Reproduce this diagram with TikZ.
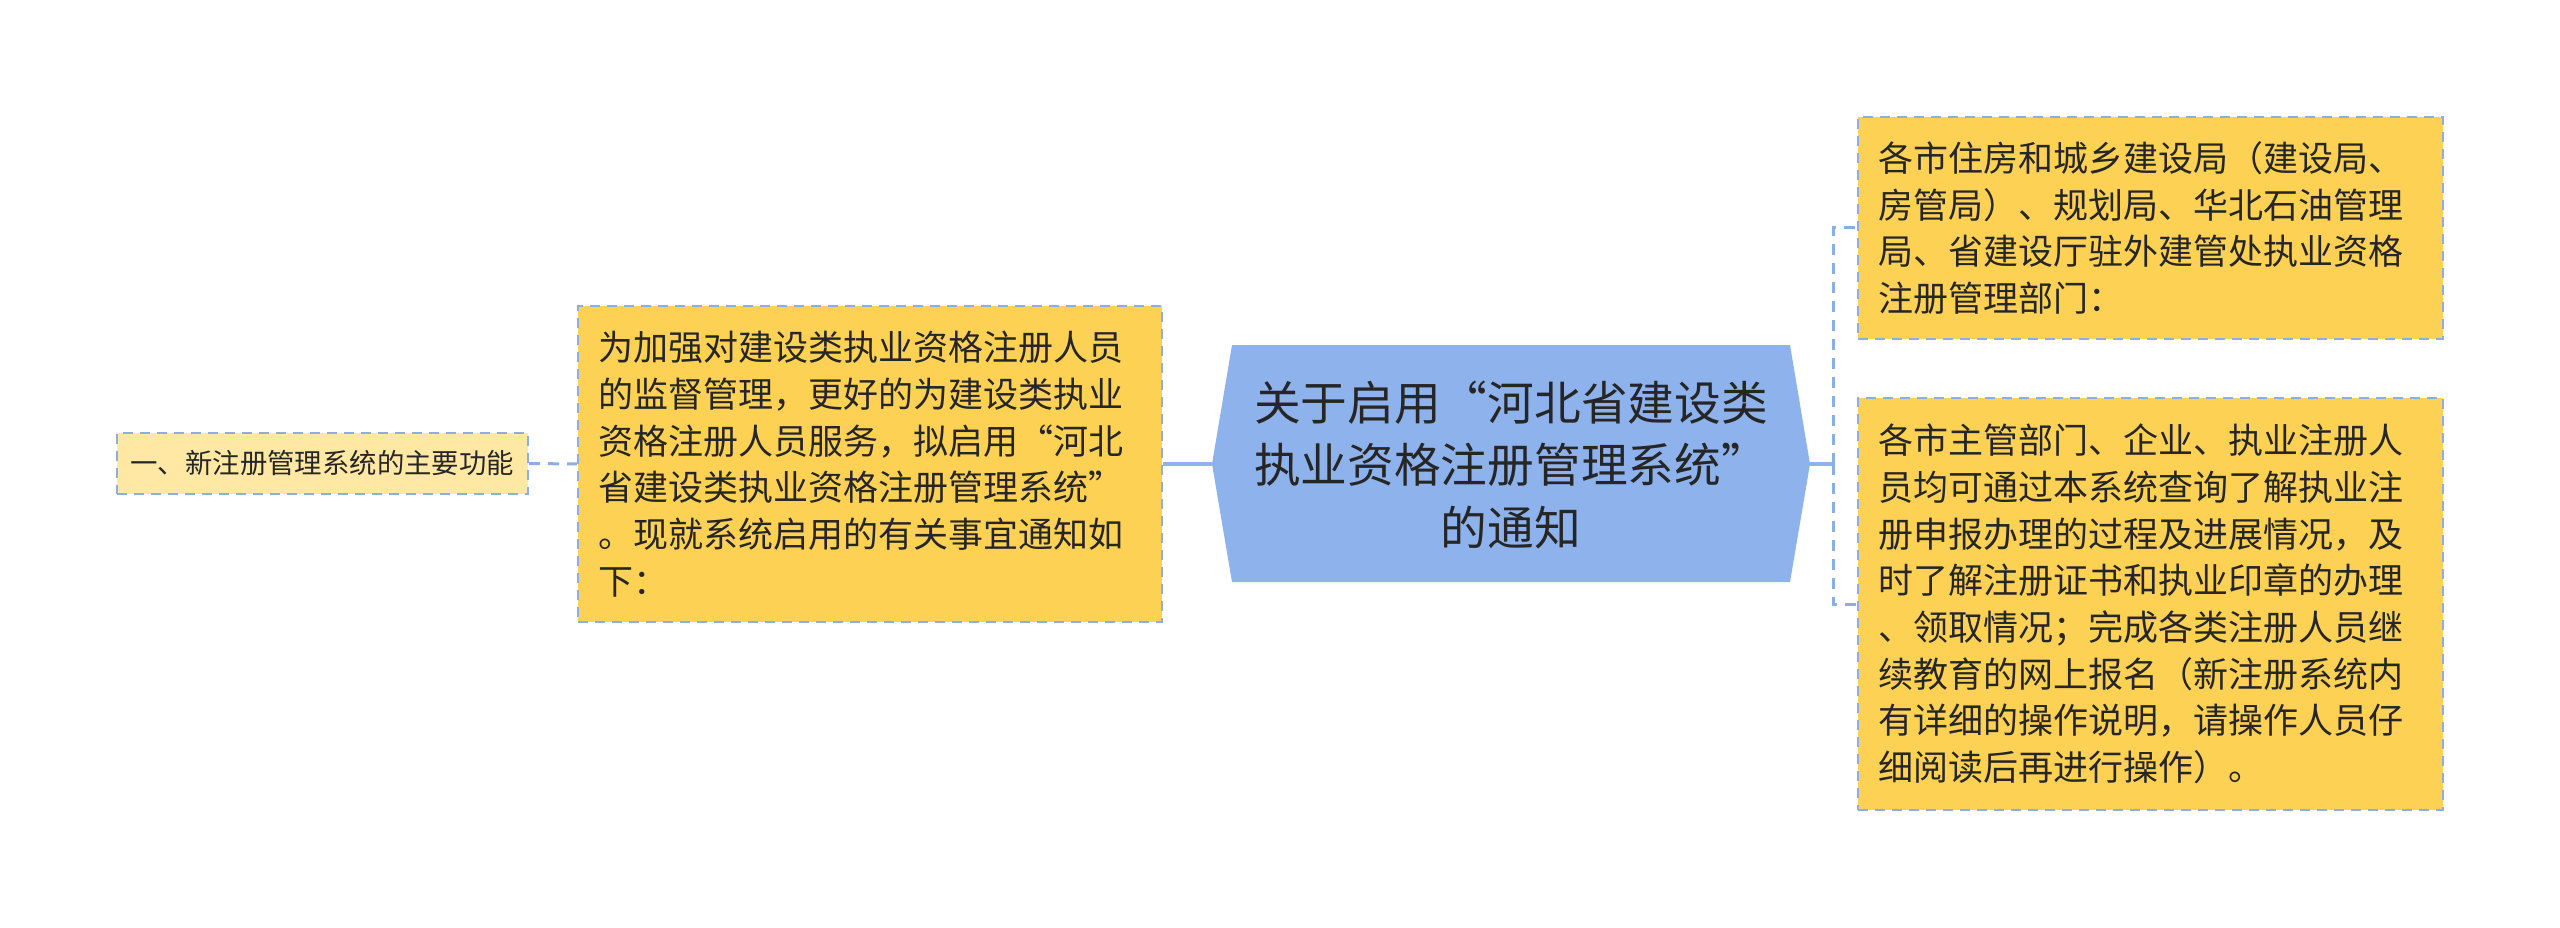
\documentclass[tikz,border=0pt]{standalone}
\usepackage{fontspec}
\setmainfont{Noto Sans CJK SC}[RawFeature=+fwid]
\definecolor{gold}{HTML}{FDD154}
\definecolor{pale}{HTML}{FFE8A3}
\definecolor{edge}{HTML}{8AAEE5}
\definecolor{mainfill}{HTML}{8EB2EC}
\definecolor{ink}{HTML}{262626}
\tikzset{
  goldbox/.style={draw=edge, line width=2pt, dash pattern=on 10pt off 7pt, fill=gold, inner sep=0pt, align=left, text=ink},
  palebox/.style={draw=edge, line width=2pt, dash pattern=on 10pt off 7pt, fill=pale, inner sep=0pt, align=left, text=ink},
  solidlink/.style={draw=mainfill, line width=3.5pt},
  dashlink/.style={draw=edge, line width=3pt, dash pattern=on 11pt off 8pt},
  boxfont/.style={font=\fontsize{35}{46.7}\selectfont},
}
\begin{document}
\begin{tikzpicture}[x=1pt,y=-1pt]
\useasboundingbox (0,0) rectangle (2560,928);
\fill[white] (0,0) rectangle (2560,928);
% center shape
\coordinate (cl) at (1212,464);
\coordinate (cr) at (1810,464);
\fill[mainfill] (cl) -- (1232,345) -- (1790,345) -- (cr) -- (1790,582) -- (1232,582) -- cycle;
\node[text width=560pt, align=center, inner sep=0pt, text=ink, font=\fontsize{46.7}{62.5}\selectfont] (c) at (1511,465)
  {关于启用“河北省建设类\\执业资格注册管理系统”\\的通知};
% left boxes
\node[goldbox, boxfont, minimum width=584pt, minimum height=316pt, text width=544pt] (b2) at (870,464)
  {为加强对建设类执业资格注册人员\\的监督管理，更好的为建设类执业\\资格注册人员服务，拟启用“河北\\省建设类执业资格注册管理系统”\\。现就系统启用的有关事宜通知如\\下：};
\node[palebox, minimum width=411pt, minimum height=61pt, text width=384pt, font=\fontsize{27.4}{34}\selectfont] (b1) at (322.5,463.5)
  {一、新注册管理系统的主要功能};
% right boxes
\node[goldbox, boxfont, minimum width=585pt, minimum height=222pt, text width=545pt] (r1) at (2150.5,228)
  {各市住房和城乡建设局（建设局、\\房管局）、规划局、华北石油管理\\局、省建设厅驻外建管处执业资格\\注册管理部门：};
\node[goldbox, boxfont, minimum width=585pt, minimum height=412pt, text width=545pt] (r2) at (2150.5,604)
  {各市主管部门、企业、执业注册人\\员均可通过本系统查询了解执业注\\册申报办理的过程及进展情况，及\\时了解注册证书和执业印章的办理\\、领取情况；完成各类注册人员继\\续教育的网上报名（新注册系统内\\有详细的操作说明，请操作人员仔\\细阅读后再进行操作）。};
% connectors
\draw[dashlink] (b1.east) -- (b2.west);
\draw[solidlink] (b2.east) -- (cl);
\coordinate (j) at (1833,464);
\draw[solidlink] (cr) -- (j);
\draw[dashlink] (j) |- (r1.west);
\draw[dashlink] (j) |- (r2.west);
\end{tikzpicture}
\end{document}
